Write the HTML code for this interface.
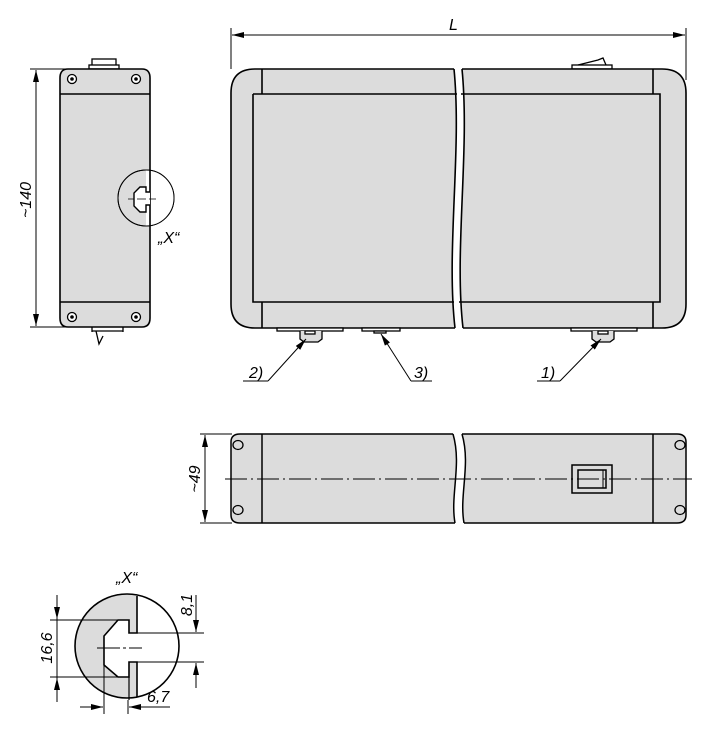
<!DOCTYPE html>
<html><head><meta charset="utf-8"><style>
html,body{margin:0;padding:0;background:#fff}
svg{display:block}
text{font-family:"Liberation Sans",sans-serif;font-style:italic;fill:#000}
</style></head><body>
<svg width="702" height="750" viewBox="0 0 702 750" xmlns="http://www.w3.org/2000/svg">
<defs>
<marker id="a" viewBox="0 0 12 6" refX="12" refY="3" markerWidth="12" markerHeight="6" orient="auto" markerUnits="userSpaceOnUse"><path d="M0,0 L12,3 L0,6z" fill="#000"/></marker>
</defs>
<g stroke="#000" fill="none" stroke-width="1">
<!-- L dimension -->
<line x1="231" y1="28" x2="231" y2="69"/>
<line x1="686" y1="28" x2="686" y2="80"/>
<line x1="243" y1="35" x2="674" y2="35"/>
<line x1="245" y1="35" x2="232" y2="35" marker-end="url(#a)"/>
<line x1="672" y1="35" x2="685" y2="35" marker-end="url(#a)"/>

<!-- side view -->
<path d="M30,69 H68 M30,327 H68"/>
<line x1="36" y1="100" x2="36" y2="70" marker-end="url(#a)"/>
<line x1="36" y1="300" x2="36" y2="326" marker-end="url(#a)"/>
<line x1="36" y1="90" x2="36" y2="310"/>
<rect x="92" y="59" width="24" height="8" fill="#fff" stroke-width="1.3"/>
<rect x="89" y="65" width="30" height="4" fill="#fff" stroke-width="1.3"/>
<path d="M68,69 H142 Q150,69 150,78 V318 Q150,327 142,327 H68 Q60,327 60,318 V78 Q60,69 68,69Z" fill="#dcdcdc" stroke-width="1.6"/>
<line x1="60" y1="94" x2="150" y2="94" stroke-width="1.6"/>
<line x1="60" y1="302" x2="150" y2="302" stroke-width="1.6"/>
<g stroke-width="1.3" fill="#fff"><circle cx="72" cy="79" r="4.5"/><circle cx="136" cy="79" r="4.5"/><circle cx="72" cy="317" r="4.5"/><circle cx="136" cy="317" r="4.5"/></g>
<g fill="#000" stroke="none"><circle cx="72" cy="79" r="1.8"/><circle cx="136" cy="79" r="1.8"/><circle cx="72" cy="317" r="1.8"/><circle cx="136" cy="317" r="1.8"/></g>
<path d="M92,327 V332 M123,327 V332 M92,331 H123" stroke-width="1.3"/>
<path d="M96,331 L99,344 L103,336" stroke-width="1.3"/>
<circle cx="146" cy="198" r="28" fill="#dcdcdc"/>
<path d="M146,170 A28,28 0 0 1 146,226" fill="#fff" stroke="none"/>
<circle cx="146" cy="198" r="28"/>
<path d="M150,170 V226" stroke-width="1.6"/>
<path d="M150,192 H146 V187 H140 L134,193 V206 L140,212 H146 V205 H150" fill="#fff" stroke-width="1.4"/>
<path d="M128,199 H134 M137,199 H146 M149,199 H156" stroke-width="0.8"/>

<!-- front view -->
<rect x="572" y="65" width="40" height="4" fill="#fff" stroke-width="1.3"/>
<path d="M578,65 L598,60 L603,58 L606,65" stroke-width="1.3"/>
<path d="M255,69 H454 C462,150 446,250 455,328 H255 Q231,328 231,304 V93 Q231,69 255,69Z" fill="#dcdcdc" stroke="none"/>
<path d="M462,69 H662 Q686,69 686,93 V304 Q686,328 662,328 H463 C454,250 470,150 462,69Z" fill="#dcdcdc" stroke="none"/>
<g stroke-width="1.6">
<path d="M454,69 H255 Q231,69 231,93 V304 Q231,328 255,328 H455"/>
<path d="M462,69 H662 Q686,69 686,93 V304 Q686,328 662,328 H463"/>
<path d="M454,69 C462,150 446,250 455,328 M462,69 C470,150 454,250 463,328"/>
<path d="M253,94 H457 M461,94 H660 V302 H459 M454,302 H253 V94"/>
<path d="M262,69 V94 M262,302 V328 M653,69 V94 M653,302 V328"/>
</g>
<!-- connectors -->
<g stroke-width="1.3">
<rect x="277" y="328" width="66" height="3" fill="#fff"/>
<path d="M300,331 V339 L304,342 H318 L322,339 V331" fill="#dcdcdc"/>
<rect x="305" y="331" width="10" height="3" fill="#fff"/>
<rect x="362" y="328" width="38" height="3" fill="#fff"/>
<rect x="374" y="331" width="12" height="2" fill="#fff"/>
<rect x="571" y="328" width="66" height="3" fill="#fff"/>
<path d="M592,331 V339 L596,342 H610 L614,339 V331" fill="#dcdcdc"/>
<rect x="598" y="331" width="10" height="3" fill="#fff"/>
</g>
<line x1="268" y1="381" x2="306" y2="339" marker-end="url(#a)"/>
<line x1="243" y1="381" x2="268" y2="381"/>
<line x1="411" y1="381" x2="381" y2="334" marker-end="url(#a)"/>
<line x1="411" y1="381" x2="432" y2="381"/>
<line x1="560" y1="381" x2="601" y2="339" marker-end="url(#a)"/>
<line x1="537" y1="381" x2="560" y2="381"/>

<!-- bottom view -->
<path d="M200,434 H232 M200,523 H232"/>
<line x1="205" y1="455" x2="205" y2="435" marker-end="url(#a)"/>
<line x1="205" y1="500" x2="205" y2="522" marker-end="url(#a)"/>
<line x1="205" y1="450" x2="205" y2="505"/>
<path d="M240,434 H453 C462,465 450,495 455,523 H240 Q231,523 231,515 V442 Q231,434 240,434Z" fill="#dcdcdc" stroke="none"/>
<path d="M462,434 H677 Q686,434 686,442 V515 Q686,523 677,523 H464 C459,495 471,465 462,434Z" fill="#dcdcdc" stroke="none"/>
<g stroke-width="1.5">
<path d="M453,434 H240 Q231,434 231,442 V515 Q231,523 240,523 H455"/>
<path d="M462,434 H677 Q686,434 686,442 V515 Q686,523 677,523 H464"/>
<path d="M453,434 C462,465 450,495 455,523 M462,434 C471,465 459,495 464,523"/>
<path d="M262,434 V523 M653,434 V523"/>
</g>
<g stroke-width="1.3"><ellipse cx="238" cy="445" rx="5" ry="4.5"/><ellipse cx="238" cy="510" rx="5" ry="4.5"/><ellipse cx="680" cy="445" rx="5" ry="4.5"/><ellipse cx="680" cy="510" rx="5" ry="4.5"/></g>
<rect x="572" y="465" width="40" height="28" stroke-width="1.5"/>
<rect x="578" y="470" width="28" height="18" stroke-width="1.5"/>
<line x1="603" y1="470" x2="603" y2="488"/>
<line x1="225" y1="479" x2="692" y2="479" stroke-dasharray="22,4,2,4" stroke-width="0.9"/>

<!-- detail X -->
<circle cx="127" cy="646" r="52" fill="#fff"/>
<clipPath id="c"><circle cx="127" cy="646" r="52"/></clipPath>
<path d="M60,590 H137 V705 H60Z" fill="#dcdcdc" stroke="none" clip-path="url(#c)"/>
<path d="M137,633 H129 V620 H118 L104,636 V665 L118,677 H129 V662 H137 V700 H180 V590 H137Z" fill="#fff" stroke="none" clip-path="url(#c)"/>
<circle cx="127" cy="646" r="52" stroke-width="1.6"/>
<path d="M137,596 V633 H129 V620 H118 L104,636 V665 L118,677 H129 V662 H137 V697" stroke-width="1.6"/>
<path d="M129,677 V700" stroke-width="1.2"/>
<path d="M97,648 H120 M123,648 H126 M129,648 H142" stroke-width="0.9"/>
<path d="M50,620 H118 M50,677 H118"/>
<line x1="57" y1="595" x2="57" y2="619" marker-end="url(#a)"/>
<line x1="57" y1="702" x2="57" y2="678" marker-end="url(#a)"/>
<line x1="57" y1="619" x2="57" y2="678"/>
<path d="M137,633 H204 M137,662 H204"/>
<line x1="196" y1="595" x2="196" y2="632" marker-end="url(#a)"/>
<line x1="196" y1="688" x2="196" y2="663" marker-end="url(#a)"/>
<path d="M104,665 V714 M128,700 V714"/>
<line x1="80" y1="707" x2="103" y2="707" marker-end="url(#a)"/>
<line x1="170" y1="707" x2="129" y2="707" marker-end="url(#a)"/>
</g>
<g font-size="16">
<text x="449" y="30">L</text>
<text transform="translate(31,200) rotate(-90)" text-anchor="middle">~140</text>
<text x="158" y="243">„X“</text>
<text x="249" y="378">2)</text>
<text x="414" y="378">3)</text>
<text x="541" y="378">1)</text>
<text transform="translate(200,479) rotate(-90)" text-anchor="middle">~49</text>
<text x="116" y="583">„X“</text>
<text transform="translate(52,648) rotate(-90)" text-anchor="middle">16,6</text>
<text transform="translate(192,605) rotate(-90)" text-anchor="middle">8,1</text>
<text x="147" y="702">6,7</text>
</g>
</svg>
</body></html>
